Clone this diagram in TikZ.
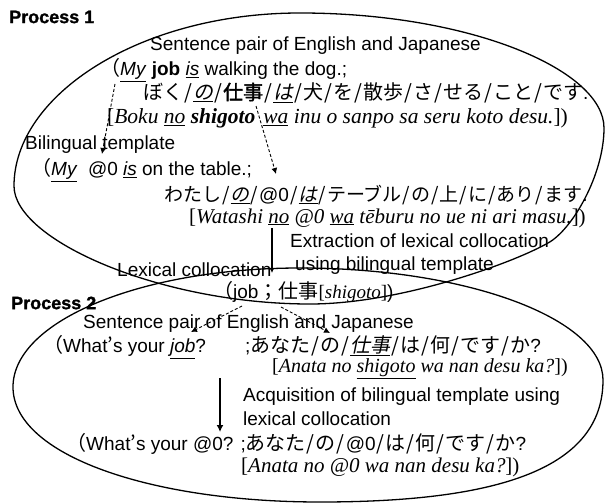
\documentclass[tikz,border=0pt]{standalone}
\usepackage{fontspec}
\setmainfont{Liberation Serif}
\newfontfamily\lsans{Liberation Sans}
\newfontfamily\procfont{Liberation Sans}[BoldFeatures={FakeBold=1.3}]
\newfontfamily\jp{Noto Sans CJK JP}
\newfontfamily\jpi{Noto Sans CJK JP}[FakeSlant=0.2]
\newfontfamily\jpb{Noto Sans CJK JP}[FakeBold=2]
\usetikzlibrary{arrows.meta}
\def\jpsize{20}
\newcommand\jj[1]{{\jp\fontsize{\jpsize}{22}\selectfont #1}}
\newcommand\jju[1]{\underline{{\jpi\fontsize{\jpsize}{22}\selectfont #1}}}
\newcommand\jjb[1]{{\jpb\fontsize{\jpsize}{22}\selectfont #1}}
\newcommand\sla{\jj{\makebox[0.5em][c]{/}}}
\newcommand\ul[1]{\underline{\textit{#1}}}
\begin{document}
\begin{tikzpicture}[x=1pt,y=-1pt,
  sans/.style={anchor=west,inner sep=0pt,font=\lsans\fontsize{19}{22}\selectfont},
  rom/.style={anchor=west,inner sep=0pt,font=\fontsize{21}{24}\selectfont},
  proc/.style={anchor=west,inner sep=0pt,font=\procfont\bfseries\fontsize{18}{20}\selectfont},
  oval/.style={line width=1.3pt},
  bigarrow/.style={line width=2pt,-{Latex[length=7pt,width=7pt]}},
  smallarrow/.style={line width=2pt,-{Latex[length=5pt,width=5pt]}},
  dasharrow/.style={line width=0.9pt,dash pattern=on 3pt off 2pt,-{Latex[length=6pt,width=6pt]}}]
\useasboundingbox (0,0) rectangle (605,503);
% ovals
\draw[oval] (14,186) .. controls (14,95) and (140,13) .. (300,13)
  .. controls (470,13) and (604,70) .. (604,128)
  .. controls (604,175) and (572,230) .. (548,243)
  .. controls (513,263) and (400,304) .. (310,304)
  .. controls (160,304) and (14,240) .. cycle;
\draw[oval] (13,387) .. controls (13,321) and (141,268) .. (300,268)
  .. controls (468,268) and (603,319) .. (603,380)
  .. controls (603,468) and (500,502) .. (320,502)
  .. controls (150,502) and (13,455) .. cycle;
% Process 1
\node[proc] (p1) at (9,17) {Process 1};
\node[sans] (s1) at (150,46) {Sentence pair of English and Japanese};
\node[sans] (e1) at (100,70) {\jj{（}\ul{My} \textbf{job} \ul{is} walking the dog.;};
\node[sans] (j1) at (143,93) {\jj{ぼく}\sla\jju{の}\sla\jjb{仕事}\sla\jju{は}\sla\jj{犬}\sla\jj{を}\sla\jj{散歩}\sla\jj{さ}\sla\jj{せる}\sla\jj{こと}\sla\jj{です}.};
\node[rom,font=\fontsize{21.5}{24}\selectfont] (r1) at (107,118) {[\textit{Boku} \ul{no} \textbf{\textit{shigoto}}\hspace{8pt}\ul{wa} \textit{inu o sanpo sa seru koto desu.}])};
\node[sans] (bt) at (25,145) {Bilingual template};
\node[sans] (e2) at (31,170) {\jj{（}\ul{My}\ \ @0 \ul{is} on the table.;};
\node[sans] (j2) at (164,195) {\def\jpsize{19}\jj{わたし}\sla\jju{の}\sla@0\sla\jju{は}\sla\jj{テーブル}\sla\jj{の}\sla\jj{上}\sla\jj{に}\sla\jj{あり}\sla\jj{ます}.};
\node[rom] (r2) at (189,218) {[\textit{Watashi} \ul{no} \textit{@0} \ul{wa} \textit{tēburu no ue ni ari masu.}])};
\node[sans] (ext1) at (290,241) {Extraction of lexical collocation};
\node[sans] (ext2) at (295,266) {using bilingual template};
\node[sans] (lc) at (117,270) {Lexical collocation};
\node[sans] (lcv) at (213,292) {\jj{（}job\jj{；仕事}{\rmfamily[\textit{shigoto}]})};
% Process 2
\node[proc] (p2) at (11,303) {Process 2};
\node[sans] (s2) at (83,324) {Sentence pair of English and Japanese};
\node[sans] (e3) at (43,347) {\jj{（}What\jj{’}s your \ul{job}?\hspace{39pt};\jj{あなた}\sla\jj{の}\sla\jju{仕事}\sla\jj{は}\sla\jj{何}\sla\jj{です}\sla\jj{か}?};
\node[rom,font=\fontsize{20}{23}\selectfont] (r3) at (272,369) {[\textit{Anata no} \ul{shigoto} \textit{wa nan desu ka?}])};
\node[sans] (acq1) at (243,397) {Acquisition of bilingual template using};
\node[sans] (acq2) at (243,419) {lexical collocation};
\node[sans] (e4) at (66,444) {\jj{（}What\jj{’}s your @0? ;\jj{あなた}\sla\jj{の}\sla@0\sla\jj{は}\sla\jj{何}\sla\jj{です}\sla\jj{か}?};
\node[rom] (r4) at (241,467) {[\textit{Anata no @0 wa nan desu ka?}])};
% arrows
\coordinate (a1s) at (272,228);
\coordinate (a1e) at (272,273);
\draw[smallarrow] (a1s) -- (a1e);
\coordinate (a2s) at (220,378);
\coordinate (a2e) at (220,432);
\draw[bigarrow] (a2s) -- (a2e);
\coordinate (d1s) at (115,84);
\coordinate (d1e) at (102,154);
\draw[dasharrow] (d1s) -- (d1e);
\coordinate (d2s) at (256,106);
\coordinate (d2e) at (276,174);
\draw[dasharrow] (d2s) -- (d2e);
\coordinate (d3s) at (242,306);
\coordinate (d3e) at (191,332);
\draw[dasharrow] (d3s) -- (d3e);
\coordinate (d4s) at (281,307);
\coordinate (d4e) at (330,333);
\draw[dasharrow] (d4s) -- (d4e);
\end{tikzpicture}
\end{document}
